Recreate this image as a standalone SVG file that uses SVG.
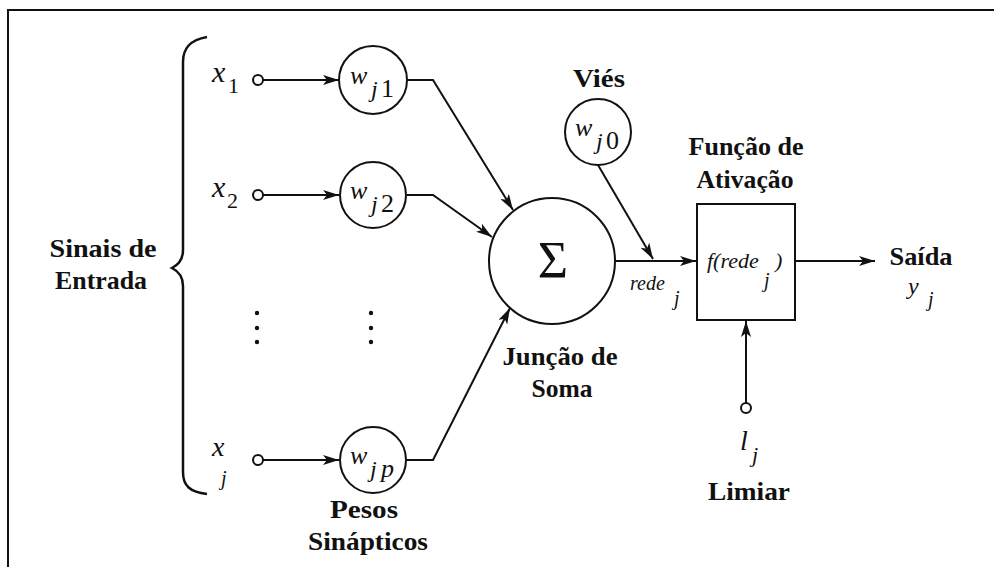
<svg xmlns="http://www.w3.org/2000/svg" width="994" height="567" viewBox="0 0 994 567" font-family="Liberation Serif, DejaVu Serif, Times New Roman, serif">
<style>
.lbl{font-weight:bold;font-size:26px;fill:#111;text-anchor:middle}
.m{font-style:italic;fill:#111}
.d{fill:#111}
.node{fill:#fff;stroke:#111;stroke-width:2}
.con{fill:none;stroke:#111;stroke-width:2}
</style>
<defs>
<marker id="arr" markerUnits="userSpaceOnUse" markerWidth="18" markerHeight="12" refX="16" refY="5" orient="auto">
<path d="M0,0 L16,5 L0,10 L4,5 z" fill="#111"/>
</marker>
</defs>
<rect x="0" y="0" width="994" height="567" fill="#fff"/>
<path d="M8,567 L8,10 L994,10" fill="none" stroke="#111" stroke-width="2"/>

<g id="brace">
<path d="M207,37 C190,40 183,48 183,62 L183,250 C183,260 178,265 172,268 C178,271 183,276 183,286 L183,472 C183,486 190,492 207,494" fill="none" stroke="#111" stroke-width="2.5"/>
<text class="lbl" x="103" y="257" textLength="107" lengthAdjust="spacingAndGlyphs">Sinais de</text>
<text class="lbl" x="101" y="289" textLength="92" lengthAdjust="spacingAndGlyphs">Entrada</text>
</g>

<g id="connectors">
<line class="con" x1="263" y1="80" x2="339" y2="80" marker-end="url(#arr)"/>
<line class="con" x1="263" y1="195" x2="339" y2="195" marker-end="url(#arr)"/>
<line class="con" x1="263" y1="460" x2="339" y2="460" marker-end="url(#arr)"/>
<polyline class="con" points="407,80 433,80 513,210" marker-end="url(#arr)"/>
<polyline class="con" points="407,195 433,195 492,237" marker-end="url(#arr)"/>
<polyline class="con" points="407,460 433,460 510,308" marker-end="url(#arr)"/>
<line class="con" x1="615" y1="261" x2="696" y2="261" marker-end="url(#arr)"/>
<line class="con" x1="598" y1="165" x2="653" y2="259" marker-end="url(#arr)"/>
<line class="con" x1="795" y1="261" x2="875" y2="261" marker-end="url(#arr)"/>
<line class="con" x1="746" y1="403" x2="746" y2="321" marker-end="url(#arr)"/>
</g>

<g id="x1">
<text class="m" x="212" y="82" font-size="30">x</text>
<text class="d" x="228" y="93" font-size="22">1</text>
<circle class="node" cx="258" cy="80" r="5"/>
</g>
<g id="x2">
<text class="m" x="212" y="197" font-size="30">x</text>
<text class="d" x="227" y="208" font-size="22">2</text>
<circle class="node" cx="258" cy="195" r="5"/>
</g>
<g id="xj">
<text class="m" x="212" y="456" font-size="28">x</text>
<text class="m" x="221" y="485" font-size="20">j</text>
<circle class="node" cx="258" cy="460" r="5"/>
</g>

<g id="dots">
<circle cx="257" cy="313" r="2.2" fill="#111"/>
<circle cx="257" cy="328" r="2.2" fill="#111"/>
<circle cx="257" cy="342" r="2.2" fill="#111"/>
<circle cx="371" cy="313" r="2.2" fill="#111"/>
<circle cx="371" cy="328" r="2.2" fill="#111"/>
<circle cx="371" cy="342" r="2.2" fill="#111"/>
</g>

<g id="wj1">
<circle class="node" cx="373" cy="80" r="34"/>
<text class="m" x="350" y="84" font-size="26">w</text>
<text class="m" x="371" y="97" font-size="24">j</text>
<text class="d" x="381" y="97" font-size="26">1</text>
</g>
<g id="wj2">
<circle class="node" cx="373" cy="195" r="33"/>
<text class="m" x="350" y="199" font-size="26">w</text>
<text class="m" x="371" y="212" font-size="24">j</text>
<text class="d" x="381" y="212" font-size="26">2</text>
</g>
<g id="wjp">
<circle class="node" cx="373" cy="460" r="33"/>
<text class="m" x="350" y="464" font-size="26">w</text>
<text class="m" x="370" y="477" font-size="24">j</text>
<text class="m" x="381" y="477" font-size="26">p</text>
<text class="lbl" x="364" y="518" textLength="68" lengthAdjust="spacingAndGlyphs">Pesos</text>
<text class="lbl" x="368" y="550" textLength="120" lengthAdjust="spacingAndGlyphs">Sinápticos</text>
</g>

<g id="wj0">
<text class="lbl" x="599" y="87" textLength="52" lengthAdjust="spacingAndGlyphs">Viés</text>
<circle class="node" cx="598" cy="132" r="33"/>
<text class="m" x="575" y="136" font-size="26">w</text>
<text class="m" x="596" y="149" font-size="24">j</text>
<text class="d" x="606" y="149" font-size="26">0</text>
</g>

<g id="soma">
<circle class="node" cx="552" cy="261" r="63"/>
<text class="d" x="553" y="278" font-size="52" text-anchor="middle">Σ</text>
<text class="lbl" x="560" y="365" textLength="115" lengthAdjust="spacingAndGlyphs">Junção de</text>
<text class="lbl" x="562" y="397" textLength="61" lengthAdjust="spacingAndGlyphs">Soma</text>
<text class="m" x="630" y="290" font-size="20">rede</text>
<text class="m" x="674" y="305" font-size="20">j</text>
</g>

<g id="ativacao">
<text class="lbl" x="746" y="155" textLength="115" lengthAdjust="spacingAndGlyphs">Função de</text>
<text class="lbl" x="745" y="188" textLength="97" lengthAdjust="spacingAndGlyphs">Ativação</text>
<rect class="node" x="697" y="204" width="98" height="116"/>
<text class="m" x="707" y="268" font-size="22">f(rede</text>
<text class="m" x="775" y="268" font-size="22">)</text>
<text class="m" x="764" y="287" font-size="20">j</text>
</g>

<g id="limiar">
<circle class="node" cx="746" cy="408" r="5"/>
<text class="m" x="740" y="450" font-size="28">l</text>
<text class="m" x="752" y="462" font-size="22">j</text>
<text class="lbl" x="749" y="500" textLength="82" lengthAdjust="spacingAndGlyphs">Limiar</text>
</g>

<g id="saida">
<text class="lbl" x="921" y="265" textLength="63" lengthAdjust="spacingAndGlyphs">Saída</text>
<text class="m" x="908" y="294" font-size="24">y</text>
<text class="m" x="928" y="306" font-size="20">j</text>
</g>
</svg>
